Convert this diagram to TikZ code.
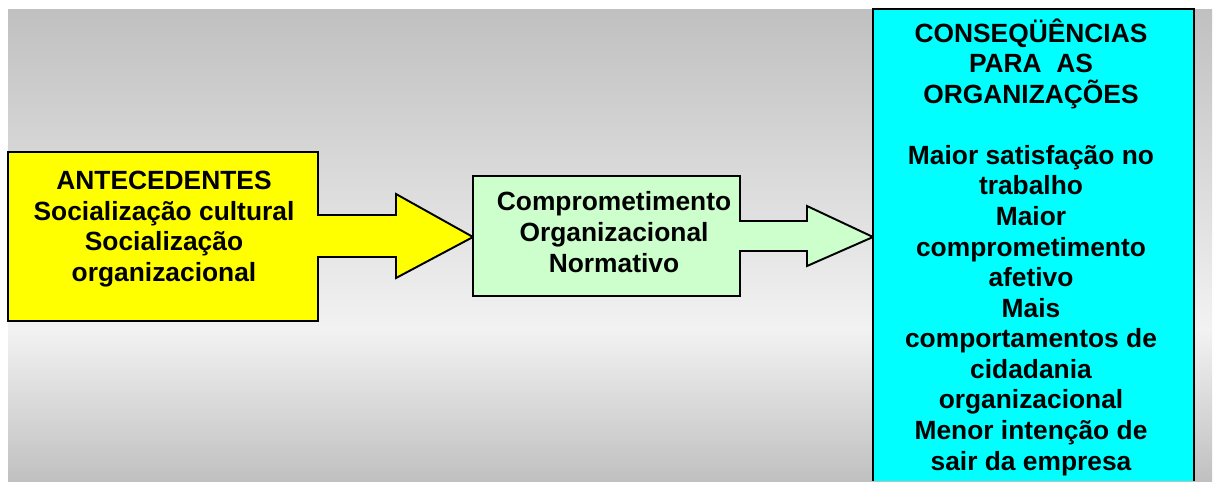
\documentclass[tikz,border=0pt]{standalone}
\usepackage{fontspec}
\setmainfont{Liberation Sans}
\usetikzlibrary{positioning}

\definecolor{bggray}{RGB}{192,192,192}
\definecolor{bglight}{RGB}{242,242,242}
\definecolor{antyellow}{RGB}{255,255,0}
\definecolor{compgreen}{RGB}{204,255,204}
\definecolor{conscyan}{RGB}{0,255,255}

\tikzset{
  outline/.style={draw=black, line width=1.1pt, line join=miter},
  txt/.style={align=center, font=\fontsize{15}{17.4}\selectfont\bfseries, inner sep=0pt}
}

\begin{document}
\begin{tikzpicture}[x=0.02cm, y=-0.02cm]
\useasboundingbox (0,0) rectangle (1219,481);

% background
\shade[top color=bggray, bottom color=bglight] (8,9) rectangle (1212,330);
\shade[top color=bglight, bottom color=bggray] (8,330) rectangle (1212,481);

% antecedentes
\coordinate (ytip) at (473,237);
\draw[outline, fill=antyellow] (8,152) -- (318,152) -- (318,215) -- (396,215) -- (396,194)
  -- (ytip) -- (396,278) -- (396,257) -- (318,257) -- (318,321) -- (8,321) -- cycle;
\node[txt] (ant) at (164,229) {ANTECEDENTES\\Socialização cultural\\Socialização\\organizacional};

% comprometimento
\coordinate (gtip) at (873,237);
\draw[outline, fill=compgreen] (ytip) -- (473,176) -- (740,176) -- (740,221) -- (807,221) -- (807,206)
  -- (gtip) -- (807,266) -- (807,251) -- (740,251) -- (740,296) -- (473,296) -- cycle;
\node[txt] (comp) at (614,232) {Comprometimento\\Organizacional\\Normativo};

% consequencias
\fill[conscyan] (873,9) rectangle (1194,481);
\draw[outline] (873,481) -- (873,9) -- (1194,9) -- (1194,481);
\node[txt] (cons) at (1031,247) {CONSEQÜÊNCIAS\\PARA\ \ AS\\ORGANIZAÇÕES\\[17.4pt]Maior satisfação no\\trabalho\\Maior\\comprometimento\\afetivo\\Mais\\comportamentos de\\cidadania\\organizacional\\Menor intenção de\\sair da empresa};
\end{tikzpicture}
\end{document}
